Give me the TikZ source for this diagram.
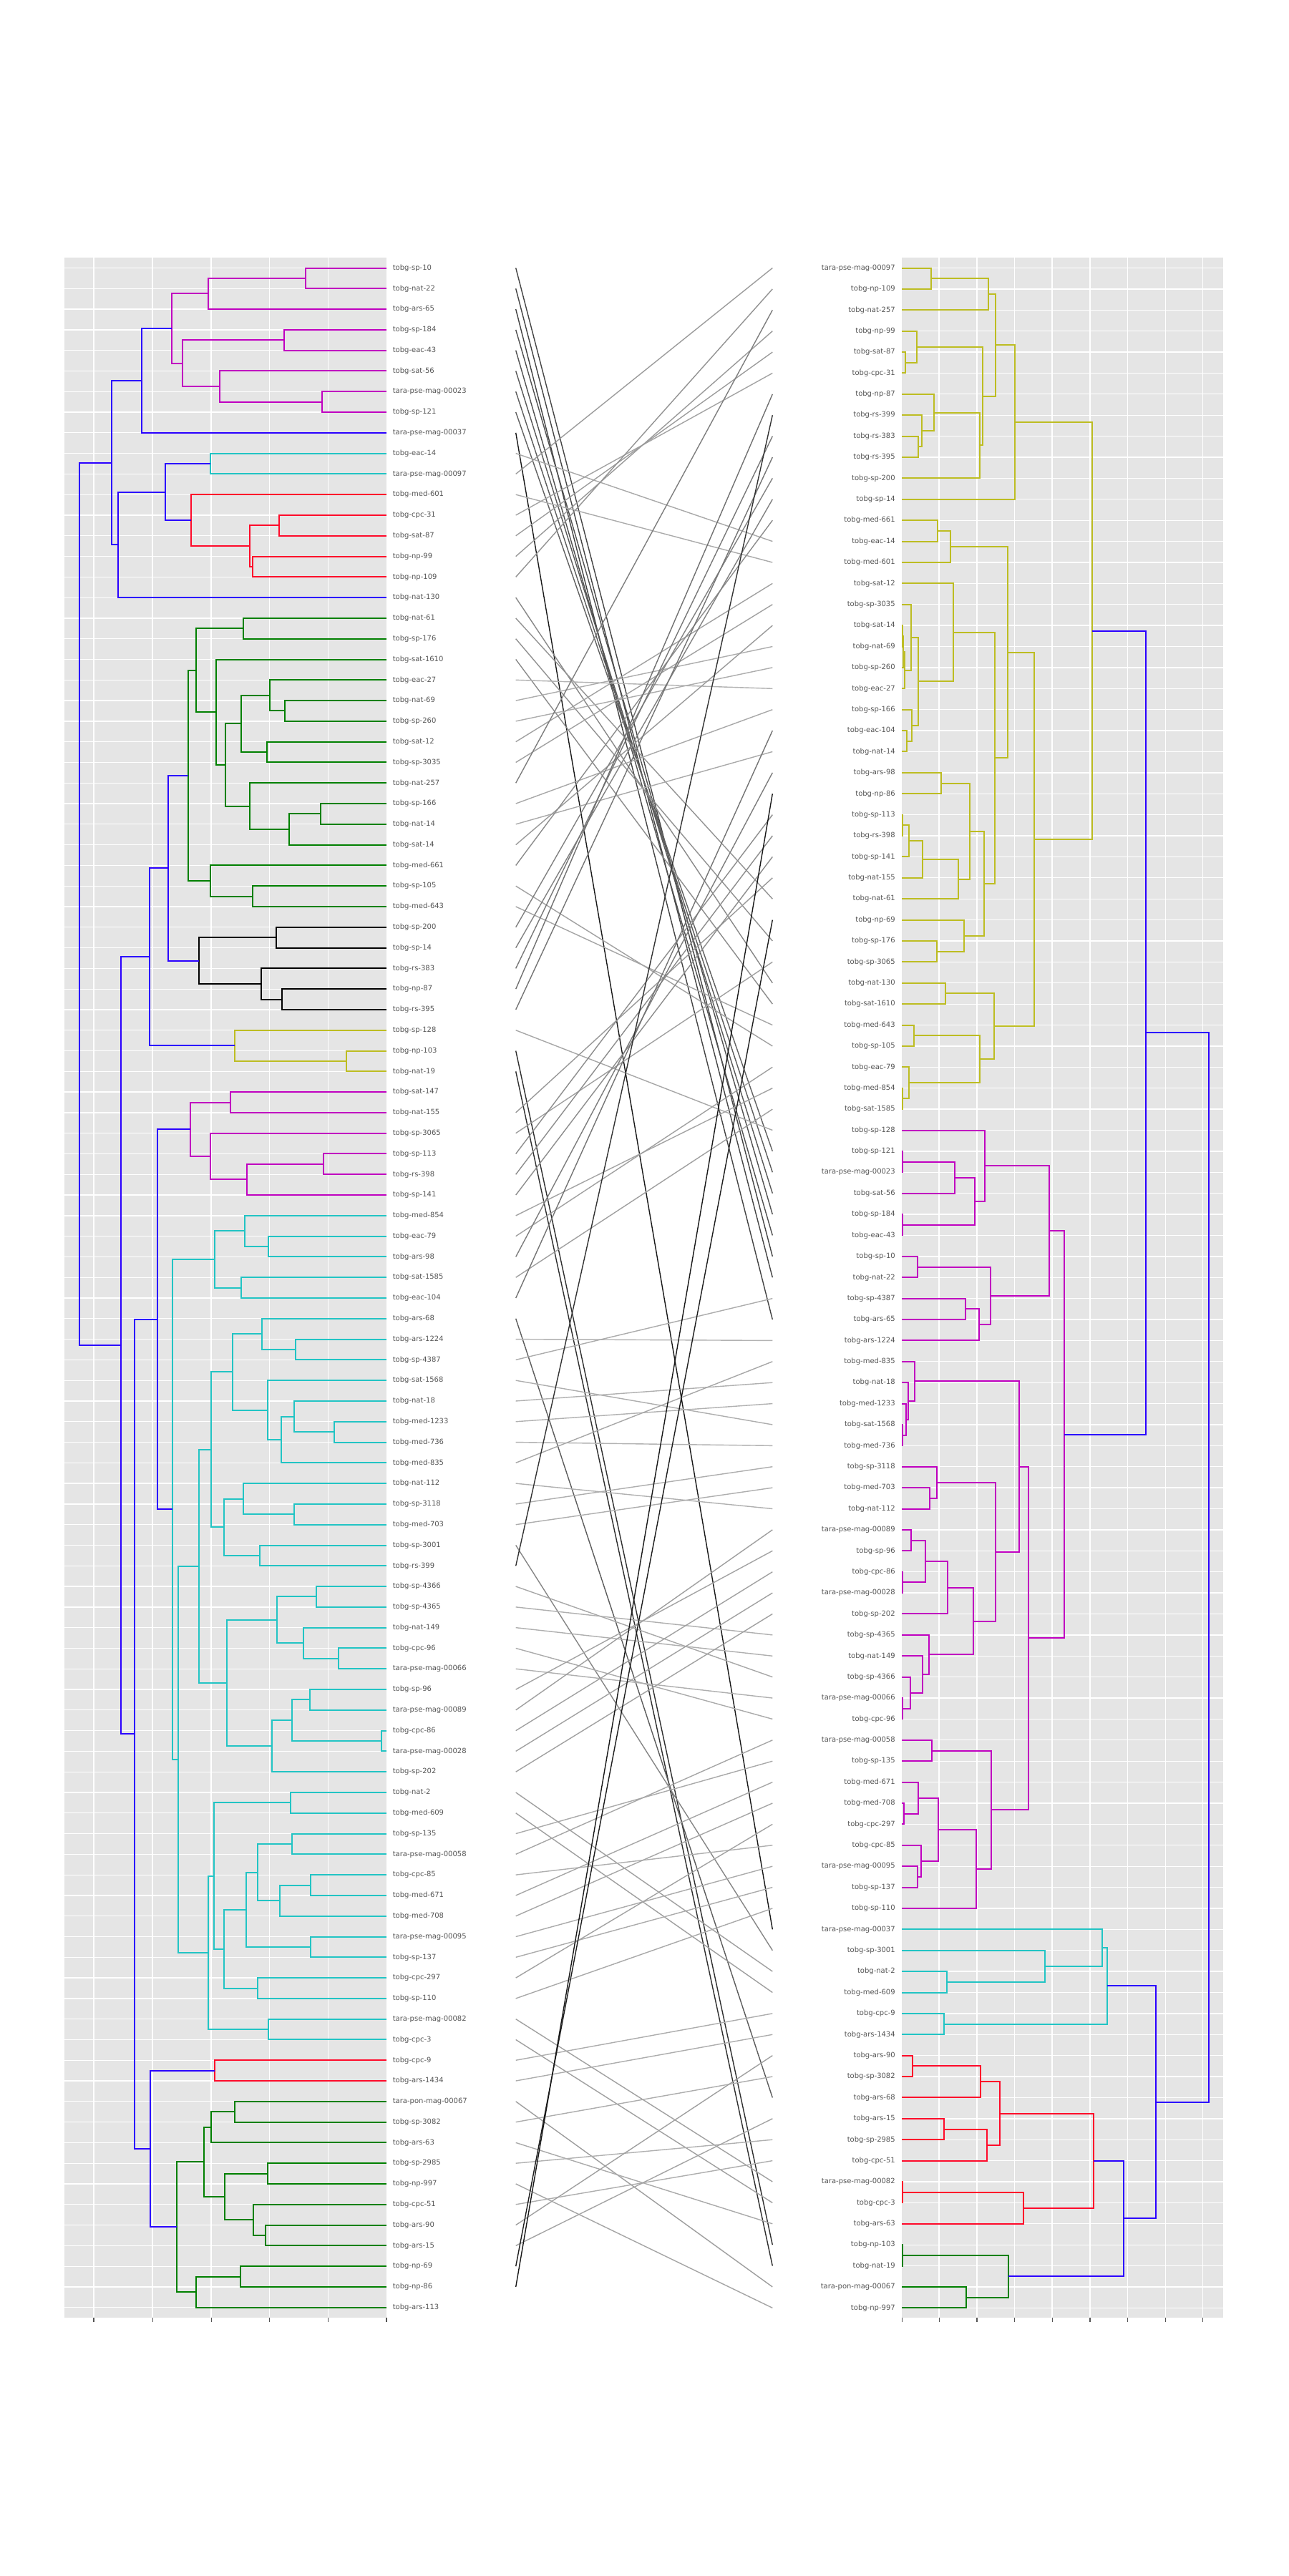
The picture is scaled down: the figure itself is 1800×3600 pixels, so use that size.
\documentclass[tikz,border=0pt]{standalone}
\usepackage{fontspec}
\setmainfont{DejaVu Sans}
\usetikzlibrary{calc}
\definecolor{panelbg}{HTML}{E5E5E5}
\definecolor{labgray}{HTML}{555555}
\definecolor{tblue}{HTML}{2A00FF}
\definecolor{tmag}{HTML}{C000C0}
\definecolor{tcyan}{HTML}{22C4C4}
\definecolor{tred}{HTML}{FF0A2A}
\definecolor{tgreen}{HTML}{008000}
\definecolor{tolive}{HTML}{BDBD22}
\definecolor{tblack}{HTML}{000000}
\pgfmathdeclarefunction{ly}{1}{\pgfmathparse{345.71+28.79*#1}}
\pgfmathdeclarefunction{ry}{1}{\pgfmathparse{345.11+29.39*#1}}
\tikzset{
 tree/.style={line width=2pt},
 gridw/.style={white, line width=1.3pt},
 lab/.style={font=\fontsize{10}{12}\selectfont, text=labgray, inner sep=0pt},
 tickm/.style={labgray, line width=1.2pt},
 connline/.style={line width=1.4pt},
}
\newcommand\dnode[5]{%
 \path let \p1=($(#3)!0.5!(#4)$) in (#2pt,\y1) coordinate (#1);
 \draw[tree,#5] (#3) -| (#1) |- (#4);}
\newcommand\tconn[2]{%
 \pgfmathsetmacro\cdel{abs(ly(#1)-ry(#2))}%
 \pgfmathsetmacro\cpct{min(90,30+0.031*\cdel)}%
 \draw[connline, draw=black!\cpct] (cl#1) -- (cr#2);}
\begin{document}
\begin{tikzpicture}[x=1pt,y=-1pt]
\useasboundingbox (0,0) rectangle (1800,3600);
\fill[white] (0,0) rectangle (1800,3600);
% panels
\fill[panelbg] (90.2,360.4) rectangle (540,3238.5);
\fill[panelbg] (1260.4,360.4) rectangle (1709.3,3238.5);
% grids
\foreach \x in {131.0,213.1,295.1,376.7,458.8} \draw[gridw] (\x,360.4) -- (\x,3238.5);
\foreach \i in {1,...,100} \draw[gridw] (90.2,{ly(\i)}) -- (540,{ly(\i)});
\foreach \x in {1312.1,1364.9,1417.3,1470.1,1522.9,1575.4,1628.2,1680.6} \draw[gridw] (\x,360.4) -- (\x,3238.5);
\foreach \j in {1,...,98} \draw[gridw] (1260.4,{ry(\j)}) -- (1709.3,{ry(\j)});
% ticks
\foreach \x in {131.0,213.1,295.1,376.7,458.8,540} \draw[tickm] (\x,3238.5) -- (\x,3244.5);
\foreach \x in {1260.4,1312.1,1364.9,1417.3,1470.1,1522.9,1575.4,1628.2,1680.6} \draw[tickm] (\x,3238.5) -- (\x,3244.5);
% leaf coordinates
\foreach \i in {1,...,100} {\coordinate (L\i) at (540,{ly(\i)}); \coordinate (cl\i) at (720.7,{ly(\i)});}
\foreach \j in {1,...,98} {\coordinate (R\j) at (1260.4,{ry(\j)}); \coordinate (cr\j) at (1079.3,{ry(\j)});}
% left labels
\foreach \i/\t in {1/tobg-sp-10, 2/tobg-nat-22, 3/tobg-ars-65, 4/tobg-sp-184, 5/tobg-eac-43, 6/tobg-sat-56, 7/tara-pse-mag-00023, 8/tobg-sp-121, 9/tara-pse-mag-00037, 10/tobg-eac-14, 11/tara-pse-mag-00097, 12/tobg-med-601, 13/tobg-cpc-31, 14/tobg-sat-87, 15/tobg-np-99, 16/tobg-np-109, 17/tobg-nat-130, 18/tobg-nat-61, 19/tobg-sp-176, 20/tobg-sat-1610, 21/tobg-eac-27, 22/tobg-nat-69, 23/tobg-sp-260, 24/tobg-sat-12, 25/tobg-sp-3035, 26/tobg-nat-257, 27/tobg-sp-166, 28/tobg-nat-14, 29/tobg-sat-14, 30/tobg-med-661, 31/tobg-sp-105, 32/tobg-med-643, 33/tobg-sp-200, 34/tobg-sp-14, 35/tobg-rs-383, 36/tobg-np-87, 37/tobg-rs-395, 38/tobg-sp-128, 39/tobg-np-103, 40/tobg-nat-19, 41/tobg-sat-147, 42/tobg-nat-155, 43/tobg-sp-3065, 44/tobg-sp-113, 45/tobg-rs-398, 46/tobg-sp-141, 47/tobg-med-854, 48/tobg-eac-79, 49/tobg-ars-98, 50/tobg-sat-1585, 51/tobg-eac-104, 52/tobg-ars-68, 53/tobg-ars-1224, 54/tobg-sp-4387, 55/tobg-sat-1568, 56/tobg-nat-18, 57/tobg-med-1233, 58/tobg-med-736, 59/tobg-med-835, 60/tobg-nat-112, 61/tobg-sp-3118, 62/tobg-med-703, 63/tobg-sp-3001, 64/tobg-rs-399, 65/tobg-sp-4366, 66/tobg-sp-4365, 67/tobg-nat-149, 68/tobg-cpc-96, 69/tara-pse-mag-00066, 70/tobg-sp-96, 71/tara-pse-mag-00089, 72/tobg-cpc-86, 73/tara-pse-mag-00028, 74/tobg-sp-202, 75/tobg-nat-2, 76/tobg-med-609, 77/tobg-sp-135, 78/tara-pse-mag-00058, 79/tobg-cpc-85, 80/tobg-med-671, 81/tobg-med-708, 82/tara-pse-mag-00095, 83/tobg-sp-137, 84/tobg-cpc-297, 85/tobg-sp-110, 86/tara-pse-mag-00082, 87/tobg-cpc-3, 88/tobg-cpc-9, 89/tobg-ars-1434, 90/tara-pon-mag-00067, 91/tobg-sp-3082, 92/tobg-ars-63, 93/tobg-sp-2985, 94/tobg-np-997, 95/tobg-cpc-51, 96/tobg-ars-90, 97/tobg-ars-15, 98/tobg-np-69, 99/tobg-np-86, 100/tobg-ars-113}
  \node[lab,anchor=west] (l\i) at (548.6,{ly(\i)}) {\t};
% right labels
\foreach \j/\t in {1/tara-pse-mag-00097, 2/tobg-np-109, 3/tobg-nat-257, 4/tobg-np-99, 5/tobg-sat-87, 6/tobg-cpc-31, 7/tobg-np-87, 8/tobg-rs-399, 9/tobg-rs-383, 10/tobg-rs-395, 11/tobg-sp-200, 12/tobg-sp-14, 13/tobg-med-661, 14/tobg-eac-14, 15/tobg-med-601, 16/tobg-sat-12, 17/tobg-sp-3035, 18/tobg-sat-14, 19/tobg-nat-69, 20/tobg-sp-260, 21/tobg-eac-27, 22/tobg-sp-166, 23/tobg-eac-104, 24/tobg-nat-14, 25/tobg-ars-98, 26/tobg-np-86, 27/tobg-sp-113, 28/tobg-rs-398, 29/tobg-sp-141, 30/tobg-nat-155, 31/tobg-nat-61, 32/tobg-np-69, 33/tobg-sp-176, 34/tobg-sp-3065, 35/tobg-nat-130, 36/tobg-sat-1610, 37/tobg-med-643, 38/tobg-sp-105, 39/tobg-eac-79, 40/tobg-med-854, 41/tobg-sat-1585, 42/tobg-sp-128, 43/tobg-sp-121, 44/tara-pse-mag-00023, 45/tobg-sat-56, 46/tobg-sp-184, 47/tobg-eac-43, 48/tobg-sp-10, 49/tobg-nat-22, 50/tobg-sp-4387, 51/tobg-ars-65, 52/tobg-ars-1224, 53/tobg-med-835, 54/tobg-nat-18, 55/tobg-med-1233, 56/tobg-sat-1568, 57/tobg-med-736, 58/tobg-sp-3118, 59/tobg-med-703, 60/tobg-nat-112, 61/tara-pse-mag-00089, 62/tobg-sp-96, 63/tobg-cpc-86, 64/tara-pse-mag-00028, 65/tobg-sp-202, 66/tobg-sp-4365, 67/tobg-nat-149, 68/tobg-sp-4366, 69/tara-pse-mag-00066, 70/tobg-cpc-96, 71/tara-pse-mag-00058, 72/tobg-sp-135, 73/tobg-med-671, 74/tobg-med-708, 75/tobg-cpc-297, 76/tobg-cpc-85, 77/tara-pse-mag-00095, 78/tobg-sp-137, 79/tobg-sp-110, 80/tara-pse-mag-00037, 81/tobg-sp-3001, 82/tobg-nat-2, 83/tobg-med-609, 84/tobg-cpc-9, 85/tobg-ars-1434, 86/tobg-ars-90, 87/tobg-sp-3082, 88/tobg-ars-68, 89/tobg-ars-15, 90/tobg-sp-2985, 91/tobg-cpc-51, 92/tara-pse-mag-00082, 93/tobg-cpc-3, 94/tobg-ars-63, 95/tobg-np-103, 96/tobg-nat-19, 97/tara-pon-mag-00067, 98/tobg-np-997}
  \node[lab,anchor=east] (r\j) at (1250.9,{ry(\j)}) {\t};
% ---------- left tree ----------
\dnode{A1}{427.3}{L1}{L2}{tmag}
\dnode{A2}{290.6}{A1}{L3}{tmag}
\dnode{A3}{396.7}{L4}{L5}{tmag}
\dnode{A4}{449.8}{L7}{L8}{tmag}
\dnode{A5}{307.3}{L6}{A4}{tmag}
\dnode{A6}{254.7}{A3}{A5}{tmag}
\dnode{A7}{240.4}{A2}{A6}{tmag}
\dnode{B1}{198.0}{A7}{L9}{tblue}
\dnode{C1}{293.5}{L10}{L11}{tcyan}
\dnode{C2}{389.8}{L13}{L14}{tred}
\dnode{C3}{353.1}{L15}{L16}{tred}
\dnode{C4}{349.0}{C2}{C3}{tred}
\dnode{C5}{267.3}{L12}{C4}{tred}
\dnode{C6}{231.0}{C1}{C5}{tblue}
\dnode{C7}{164.9}{C6}{L17}{tblue}
\dnode{B2}{156.3}{B1}{C7}{tblue}
\dnode{G1}{339.9}{L18}{L19}{tgreen}
\dnode{G2}{398.2}{L22}{L23}{tgreen}
\dnode{G3}{377.0}{L21}{G2}{tgreen}
\dnode{G4}{373.4}{L24}{L25}{tgreen}
\dnode{G5}{336.6}{G3}{G4}{tgreen}
\dnode{G6}{447.6}{L27}{L28}{tgreen}
\dnode{G7}{403.5}{G6}{L29}{tgreen}
\dnode{G8}{349.3}{L26}{G7}{tgreen}
\dnode{G9}{314.6}{G5}{G8}{tgreen}
\dnode{G10}{302.4}{L20}{G9}{tgreen}
\dnode{G11}{274.2}{G1}{G10}{tgreen}
\dnode{G12}{352.5}{L31}{L32}{tgreen}
\dnode{G13}{294.2}{L30}{G12}{tgreen}
\dnode{G14}{262.8}{G11}{G13}{tgreen}
\dnode{K1}{386.4}{L33}{L34}{tblack}
\dnode{K2}{394.2}{L36}{L37}{tblack}
\dnode{K3}{364.8}{L35}{K2}{tblack}
\dnode{K4}{278.3}{K1}{K3}{tblack}
\dnode{D1}{234.6}{G14}{K4}{tblue}
\dnode{Y1}{484.3}{L39}{L40}{tolive}
\dnode{Y2}{328.0}{L38}{Y1}{tolive}
\dnode{D2}{208.9}{D1}{Y2}{tblue}
\dnode{M1}{321.5}{L41}{L42}{tmag}
\dnode{M2}{451.7}{L44}{L45}{tmag}
\dnode{M3}{345.2}{M2}{L46}{tmag}
\dnode{M4}{293.8}{L43}{M3}{tmag}
\dnode{M5}{265.6}{M1}{M4}{tmag}
\dnode{E1}{374.6}{L48}{L49}{tcyan}
\dnode{E2}{342.3}{L47}{E1}{tcyan}
\dnode{E3}{336.6}{L50}{L51}{tcyan}
\dnode{E4}{299.5}{E2}{E3}{tcyan}
\dnode{F1}{412.5}{L53}{L54}{tcyan}
\dnode{F2}{365.6}{L52}{F1}{tcyan}
\dnode{F3}{467.2}{L57}{L58}{tcyan}
\dnode{F4}{410.9}{L56}{F3}{tcyan}
\dnode{F5}{393.3}{F4}{L59}{tcyan}
\dnode{F6}{373.8}{L55}{F5}{tcyan}
\dnode{F7}{324.8}{F2}{F6}{tcyan}
\dnode{F8}{410.5}{L61}{L62}{tcyan}
\dnode{F9}{340.3}{L60}{F8}{tcyan}
\dnode{F10}{362.7}{L63}{L64}{tcyan}
\dnode{F11}{312.6}{F9}{F10}{tcyan}
\dnode{F12}{295.0}{F7}{F11}{tcyan}
\dnode{H1}{441.9}{L65}{L66}{tcyan}
\dnode{H2}{472.5}{L68}{L69}{tcyan}
\dnode{H3}{423.9}{L67}{H2}{tcyan}
\dnode{H4}{386.8}{H1}{H3}{tcyan}
\dnode{H5}{433.3}{L70}{L71}{tcyan}
\dnode{H6}{533.4}{L72}{L73}{tcyan}
\dnode{H7}{407.6}{H5}{H6}{tcyan}
\dnode{H8}{379.9}{H7}{L74}{tcyan}
\dnode{H9}{316.6}{H4}{H8}{tcyan}
\dnode{H10}{277.9}{F12}{H9}{tcyan}
\dnode{I1}{406.0}{L75}{L76}{tcyan}
\dnode{I2}{407.6}{L77}{L78}{tcyan}
\dnode{I3}{433.7}{L79}{L80}{tcyan}
\dnode{I4}{390.9}{I3}{L81}{tcyan}
\dnode{I5}{359.9}{I2}{I4}{tcyan}
\dnode{I6}{433.7}{L82}{L83}{tcyan}
\dnode{I7}{343.6}{I5}{I6}{tcyan}
\dnode{I8}{359.9}{L84}{L85}{tcyan}
\dnode{I9}{313.0}{I7}{I8}{tcyan}
\dnode{I10}{299.1}{I1}{I9}{tcyan}
\dnode{I11}{375.4}{L86}{L87}{tcyan}
\dnode{I12}{290.5}{I10}{I11}{tcyan}
\dnode{I13}{248.5}{H10}{I12}{tcyan}
\dnode{I14}{241.2}{E4}{I13}{tcyan}
\dnode{N1}{220.0}{M5}{I14}{tblue}
\dnode{Q1}{300.3}{L88}{L89}{tred}
\dnode{P1}{327.7}{L90}{L91}{tgreen}
\dnode{P2}{294.6}{P1}{L92}{tgreen}
\dnode{P3}{373.8}{L93}{L94}{tgreen}
\dnode{P4}{371.3}{L96}{L97}{tgreen}
\dnode{P5}{353.8}{L95}{P4}{tgreen}
\dnode{P6}{314.2}{P3}{P5}{tgreen}
\dnode{P7}{284.8}{P2}{P6}{tgreen}
\dnode{P8}{336.2}{L98}{L99}{tgreen}
\dnode{P9}{274.2}{P8}{L100}{tgreen}
\dnode{P10}{246.9}{P7}{P9}{tgreen}
\dnode{N2}{210.2}{Q1}{P10}{tblue}
\dnode{N3}{187.7}{N1}{N2}{tblue}
\dnode{N4}{169.0}{D2}{N3}{tblue}
\dnode{N5}{111.4}{B2}{N4}{tblue}
% ---------- right tree ----------
\dnode{o1}{1301.0}{R1}{R2}{tolive}
\dnode{o2}{1380.6}{o1}{R3}{tolive}
\dnode{o3}{1265.0}{R5}{R6}{tolive}
\dnode{o4}{1280.7}{R4}{o3}{tolive}
\dnode{o5}{1283.4}{R9}{R10}{tolive}
\dnode{o6}{1287.6}{R8}{o5}{tolive}
\dnode{o7}{1305.2}{R7}{o6}{tolive}
\dnode{o8}{1368.7}{o7}{R11}{tolive}
\dnode{o9}{1373.3}{o4}{o8}{tolive}
\dnode{o10}{1390.9}{o2}{o9}{tolive}
\dnode{o11}{1418.1}{o10}{R12}{tolive}
\dnode{o12}{1310.2}{R13}{R14}{tolive}
\dnode{o13}{1328.2}{o12}{R15}{tolive}
\dnode{o14}{1261.2}{R18}{R19}{tolive}
\dnode{o15}{1262.0}{o14}{R20}{tolive}
\dnode{o16}{1264.3}{o15}{R21}{tolive}
\dnode{o17}{1273.4}{R17}{o16}{tolive}
\dnode{o18}{1266.6}{R23}{R24}{tolive}
\dnode{o19}{1273.8}{R22}{o18}{tolive}
\dnode{o20}{1283.4}{o17}{o19}{tolive}
\dnode{o21}{1332.0}{R16}{o20}{tolive}
\dnode{o22}{1315.2}{R25}{R26}{tolive}
\dnode{o23}{1260.8}{R27}{R28}{tolive}
\dnode{o24}{1270.0}{o23}{R29}{tolive}
\dnode{o25}{1288.8}{o24}{R30}{tolive}
\dnode{o26}{1338.5}{o25}{R31}{tolive}
\dnode{o27}{1355.3}{o22}{o26}{tolive}
\dnode{o28}{1309.0}{R33}{R34}{tolive}
\dnode{o29}{1346.5}{R32}{o28}{tolive}
\dnode{o30}{1374.8}{o27}{o29}{tolive}
\dnode{o31}{1390.2}{o21}{o30}{tolive}
\dnode{o32}{1407.8}{o13}{o31}{tolive}
\dnode{o33}{1321.3}{R35}{R36}{tolive}
\dnode{o34}{1276.9}{R37}{R38}{tolive}
\dnode{o35}{1261.2}{R40}{R41}{tolive}
\dnode{o36}{1270.0}{R39}{o35}{tolive}
\dnode{o37}{1369.1}{o34}{o36}{tolive}
\dnode{o38}{1389.0}{o33}{o37}{tolive}
\dnode{o39}{1445.3}{o32}{o38}{tolive}
\dnode{o40}{1525.6}{o11}{o39}{tolive}
\dnode{m1}{1260.8}{R43}{R44}{tmag}
\dnode{m2}{1334.3}{m1}{R45}{tmag}
\dnode{m3}{1260.8}{R46}{R47}{tmag}
\dnode{m4}{1362.2}{m2}{m3}{tmag}
\dnode{m5}{1376.4}{R42}{m4}{tmag}
\dnode{m6}{1282.2}{R48}{R49}{tmag}
\dnode{m7}{1348.8}{R50}{R51}{tmag}
\dnode{m8}{1368.0}{m7}{R52}{tmag}
\dnode{m9}{1383.6}{m6}{m8}{tmag}
\dnode{m10}{1466.3}{m5}{m9}{tmag}
\dnode{m11}{1261.2}{R56}{R57}{tmag}
\dnode{m12}{1265.8}{R55}{m11}{tmag}
\dnode{m13}{1268.9}{R54}{m12}{tmag}
\dnode{m14}{1278.0}{R53}{m13}{tmag}
\dnode{m15}{1299.1}{R59}{R60}{tmag}
\dnode{m16}{1309.0}{R58}{m15}{tmag}
\dnode{m17}{1273.1}{R61}{R62}{tmag}
\dnode{m18}{1260.8}{R63}{R64}{tmag}
\dnode{m19}{1293.3}{m17}{m18}{tmag}
\dnode{m20}{1323.6}{m19}{R65}{tmag}
\dnode{m21}{1260.8}{R69}{R70}{tmag}
\dnode{m22}{1271.9}{R68}{m21}{tmag}
\dnode{m23}{1288.8}{R67}{m22}{tmag}
\dnode{m24}{1297.9}{R66}{m23}{tmag}
\dnode{m25}{1359.9}{m20}{m24}{tmag}
\dnode{m26}{1390.5}{m16}{m25}{tmag}
\dnode{m27}{1423.8}{m14}{m26}{tmag}
\dnode{m28}{1301.8}{R71}{R72}{tmag}
\dnode{m29}{1262.7}{R74}{R75}{tmag}
\dnode{m30}{1282.6}{R73}{m29}{tmag}
\dnode{m31}{1281.9}{R77}{R78}{tmag}
\dnode{m32}{1287.2}{R76}{m31}{tmag}
\dnode{m33}{1310.9}{m30}{m32}{tmag}
\dnode{m34}{1363.8}{m33}{R79}{tmag}
\dnode{m35}{1385.2}{m28}{m34}{tmag}
\dnode{m36}{1436.5}{m27}{m35}{tmag}
\dnode{m37}{1486.6}{m10}{m36}{tmag}
\dnode{b1}{1601.0}{o40}{m37}{tblue}
\dnode{c1}{1323.2}{R82}{R83}{tcyan}
\dnode{c2}{1459.8}{R81}{c1}{tcyan}
\dnode{c3}{1539.8}{R80}{c2}{tcyan}
\dnode{c4}{1318.6}{R84}{R85}{tcyan}
\dnode{c5}{1547.4}{c3}{c4}{tcyan}
\dnode{e1}{1274.6}{R86}{R87}{tred}
\dnode{e2}{1369.5}{e1}{R88}{tred}
\dnode{e3}{1318.6}{R89}{R90}{tred}
\dnode{e4}{1379.4}{e3}{R91}{tred}
\dnode{e5}{1397.4}{e2}{e4}{tred}
\dnode{e6}{1260.8}{R92}{R93}{tred}
\dnode{e7}{1430.0}{e6}{R94}{tred}
\dnode{e8}{1528.3}{e5}{e7}{tred}
\dnode{g1}{1260.8}{R95}{R96}{tgreen}
\dnode{g2}{1349.6}{R97}{R98}{tgreen}
\dnode{g3}{1408.9}{g1}{g2}{tgreen}
\dnode{b2}{1570.0}{e8}{g3}{tblue}
\dnode{b3}{1614.8}{c5}{b2}{tblue}
\dnode{b4}{1688.6}{b1}{b3}{tblue}
% ---------- connectors ----------
\foreach \a/\b in {1/48, 2/49, 3/51, 4/46, 5/47, 6/45, 7/44, 8/43, 9/80, 10/14, 11/1, 12/15, 13/6, 14/5, 15/4, 16/2, 17/35, 18/31, 19/33, 20/36, 21/21, 22/19, 23/20, 24/16, 25/17, 26/3, 27/22, 28/24, 29/18, 30/13, 31/38, 32/37, 33/11, 34/12, 35/9, 36/7, 37/10, 38/42, 39/95, 40/96, 42/30, 43/34, 44/27, 45/28, 46/29, 47/40, 48/39, 49/25, 50/41, 51/23, 52/88, 53/52, 54/50, 55/56, 56/54, 57/55, 58/57, 59/53, 60/60, 61/58, 62/59, 63/81, 64/8, 65/68, 66/66, 67/67, 68/70, 69/69, 70/62, 71/61, 72/63, 73/64, 74/65, 75/82, 76/83, 77/72, 78/71, 79/76, 80/73, 81/74, 82/77, 83/78, 84/75, 85/79, 86/92, 87/93, 88/84, 89/85, 90/97, 91/87, 92/94, 93/90, 94/98, 95/91, 96/86, 97/89, 98/32, 99/26}
  {\tconn{\a}{\b}}
\end{tikzpicture}
\end{document}
